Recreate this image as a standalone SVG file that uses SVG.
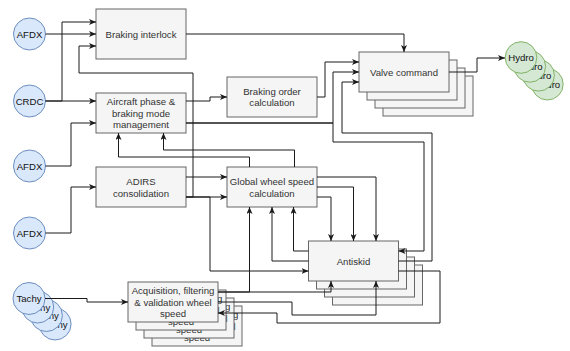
<svg xmlns="http://www.w3.org/2000/svg" width="570" height="351" viewBox="0 0 570 351">
<defs>
<style>
.box{fill:#f5f5f5;stroke:#666666;stroke-width:1}
.blue{fill:#dae8fc;stroke:#6c8ebf;stroke-width:1}
.green{fill:#d5e8d4;stroke:#82b366;stroke-width:1}
text{font-family:"Liberation Sans",Arial,Helvetica,sans-serif;font-size:9.6px;fill:#333333;text-anchor:middle;dominant-baseline:central}
.dark{fill:#111111}
#connectors path{fill:none;stroke:#1a1a1a;stroke-width:1;marker-end:url(#arr)}
</style>
<marker id="arr" viewBox="0 0 7 6" refX="7" refY="3" markerWidth="7" markerHeight="6" markerUnits="userSpaceOnUse" orient="auto">
<path d="M0,0 L7,3 L0,6 L1.8,3 z" fill="#1a1a1a"/>
</marker>
</defs>
<rect width="570" height="351" fill="#ffffff"/>

<g id="afdx1"><circle class="blue" cx="29.5" cy="34" r="16"/><text class="dark" x="29.5" y="34">AFDX</text></g>
<g id="crdc"><circle class="blue" cx="29.5" cy="101" r="16"/><text class="dark" x="29.5" y="101">CRDC</text></g>
<g id="afdx2"><circle class="blue" cx="29.5" cy="166" r="16"/><text class="dark" x="29.5" y="166">AFDX</text></g>
<g id="afdx3"><circle class="blue" cx="29.5" cy="233" r="16"/><text class="dark" x="29.5" y="233">AFDX</text></g>

<g id="tachy">
<circle class="blue" cx="55.1" cy="324" r="16"/><text class="dark" x="55.1" y="324">Tachy</text>
<circle class="blue" cx="46.4" cy="315.5" r="16"/><text class="dark" x="46.4" y="315.5">Tachy</text>
<circle class="blue" cx="37.7" cy="307" r="16"/><text class="dark" x="37.7" y="307">Tachy</text>
<circle class="blue" cx="29" cy="298.5" r="16"/><text class="dark" x="29" y="298.5">Tachy</text>
</g>

<g id="hydro">
<circle class="green" cx="547.4" cy="84.2" r="15.8"/><text class="dark" x="547.4" y="84.2">Hydro</text>
<circle class="green" cx="538.6" cy="75.3" r="15.8"/><text class="dark" x="538.6" y="75.3">Hydro</text>
<circle class="green" cx="529.8" cy="66.4" r="15.8"/><text class="dark" x="529.8" y="66.4">Hydro</text>
<circle class="green" cx="521" cy="57.5" r="15.8"/><text class="dark" x="521" y="57.5">Hydro</text>
</g>

<g id="braking-interlock"><rect class="box" x="96" y="9" width="90" height="50"/><text x="141" y="34">Braking interlock</text></g>

<g id="aircraft-phase"><rect class="box" x="96" y="93" width="90" height="40"/>
<text x="141" y="101.5">Aircraft phase &amp;</text><text x="141" y="113">braking mode</text><text x="141" y="124.5">management</text></g>

<g id="braking-order"><rect class="box" x="227" y="77" width="90" height="40"/>
<text x="272" y="91">Braking order</text><text x="272" y="102.5">calculation</text></g>

<g id="valve-command">
<rect class="box" x="383" y="76" width="90" height="40"/>
<rect class="box" x="375" y="68" width="90" height="40"/>
<rect class="box" x="367" y="60" width="90" height="40"/>
<rect class="box" x="359" y="52" width="90" height="40"/><text x="404" y="72">Valve command</text>
</g>

<g id="adirs"><rect class="box" x="96" y="167" width="90" height="40"/>
<text x="141" y="181.5">ADIRS</text><text x="141" y="193">consolidation</text></g>

<g id="global-wheel-speed"><rect class="box" x="227" y="167" width="90" height="40"/>
<text x="272" y="181.5">Global wheel speed</text><text x="272" y="193">calculation</text></g>

<g id="antiskid">
<rect class="box" x="332.5" y="265" width="90" height="40"/>
<rect class="box" x="324.5" y="257" width="90" height="40"/>
<rect class="box" x="316.5" y="249" width="90" height="40"/>
<rect class="box" x="308.5" y="241" width="90" height="40"/><text x="353.5" y="261">Antiskid</text>
</g>

<g id="acquisition">
<rect class="box" x="152" y="306" width="90" height="40"/>
<text x="197" y="314.5">Acquisition, filtering</text><text x="197" y="326">&amp; validation wheel</text><text x="197" y="337.5">speed</text>
<rect class="box" x="144" y="298" width="90" height="40"/>
<text x="189" y="306.5">Acquisition, filtering</text><text x="189" y="318">&amp; validation wheel</text><text x="189" y="329.5">speed</text>
<rect class="box" x="136" y="290" width="90" height="40"/>
<text x="181" y="298.5">Acquisition, filtering</text><text x="181" y="310">&amp; validation wheel</text><text x="181" y="321.5">speed</text>
<rect class="box" x="128" y="282" width="90" height="40"/>
<text x="173" y="290.5">Acquisition, filtering</text><text x="173" y="302">&amp; validation wheel</text><text x="173" y="313.5">speed</text>
</g>

<g id="connectors">
<path d="M45.5,34 H96"/>
<path d="M45.5,101 H62 V22 H96"/>
<path d="M45.5,101 H96"/>
<path d="M186,197 H193 V73 H79 V46 H96"/>
<path d="M45.5,166 H71 V123 H96"/>
<path d="M45.5,233 H71 V187 H96"/>
<path d="M186,101 H210 V97 H227"/>
<path d="M186,123 H333 V72 H359"/>
<path d="M186,123 H333 V142 H424 V251 H398.5"/>
<path d="M317,97 H325 V62 H359"/>
<path d="M186,34 H404 V52"/>
<path d="M449,72 H477 V58 H505"/>
<path d="M398.5,261 H432 V133 H342 V82 H359"/>
<path d="M186,177 H227"/>
<path d="M186,197 H227"/>
<path d="M186,197 H210 V271 H308.5"/>
<path d="M249.5,167 V157 H118.5 V133"/>
<path d="M294.5,167 V150 H163.5 V133"/>
<path d="M317,177 H376 V241"/>
<path d="M317,187 H353.5 V241"/>
<path d="M317,197 H331 V241"/>
<path d="M308.5,251 H293.5 V207"/>
<path d="M308.5,261 H272 V207"/>
<path d="M218,292 H249.5 V207"/>
<path d="M218,292 H331 V281"/>
<path d="M218,302 H292 V315 H376 V281"/>
<path d="M398.5,271 H440 V323 H277 V313 H218"/>
<path d="M45,298.5 H87 V302 H128"/>
</g>
</svg>
